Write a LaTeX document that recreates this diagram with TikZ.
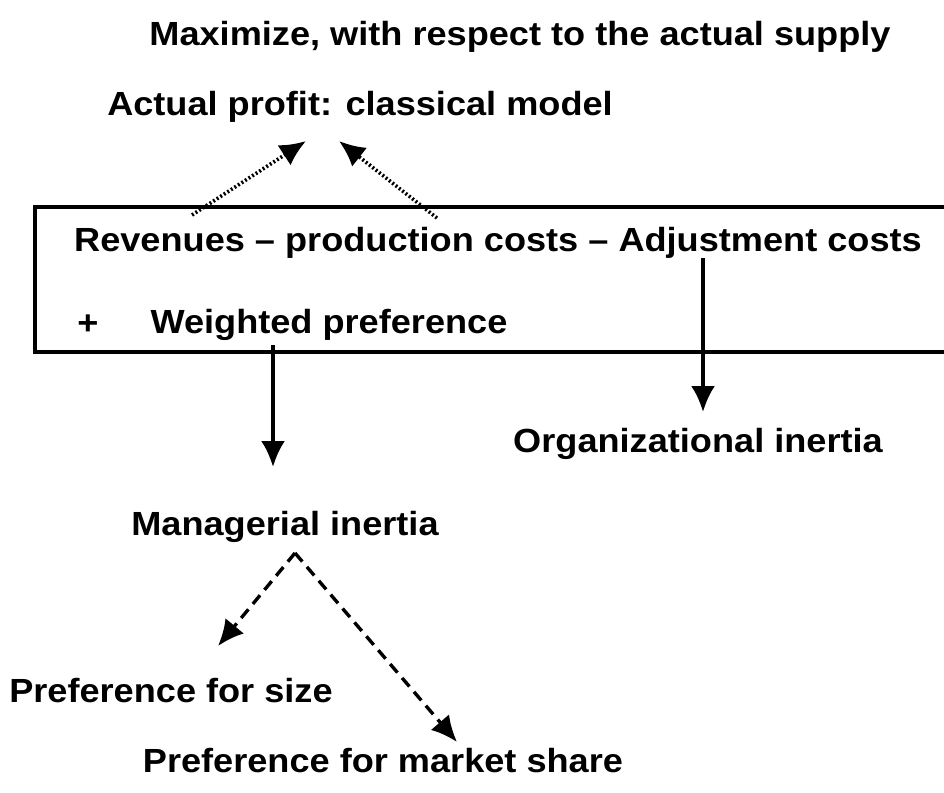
\documentclass[tikz,border=0pt]{standalone}
\usepackage{fontspec}
\setmainfont[FakeStretch=1.08]{Liberation Sans}
\usetikzlibrary{positioning}
\usetikzlibrary{arrows.meta}
\tikzset{
    term/.style = {inner sep=0pt, anchor=center, font=\fontsize{23.8}{28}\selectfont\bfseries},
    boxline/.style = {line width=2.8pt},
    edgen/.style = {-{Latex[length=6.5mm,width=6mm]},line width=2.6pt},
    edgedt/.style = {-{Latex[length=6.5mm,width=6mm]},line width=2.6pt,dash pattern=on 1.4pt off 1.6pt}, % to profit
    edgeds/.style = {-{Latex[length=6.5mm,width=6mm]},line width=2.4pt,dash pattern=on 8pt off 5pt} % preferences
}
\begin{document}
\begin{tikzpicture}[x=0.025cm,y=-0.025cm]
  \useasboundingbox (0,0) rectangle (944,792);
  % objective and the box
  \node[term] (max) at (520,37) {Maximize, with respect to the actual supply};
  \node[term] (profit) at (360,107) {Actual profit: classical model};
  \draw[boxline] (960,207) -- (35,207) -- (35,352) -- (960,352);
  \node[term] (rev) at (498,243) {Revenues -- production costs -- Adjustment costs};
  \node[term] (plus) at (88,325) {+};
  \node[term] (wpref) at (329,325) {Weighted preference};
  % inertia
  \node[term] (org) at (698,444) {Organizational inertia};
  \node[term] (man) at (285,527) {Managerial inertia};
  \node[term] (size) at (171,691) {Preference for size};
  \node[term] (share) at (383,761) {Preference for market share};

  \coordinate (r1) at (192,215);
  \coordinate (r2) at (437,218);
  \coordinate (p1) at (306,141);
  \coordinate (p2) at (339,141);
  \coordinate (w1) at (273,345);
  \coordinate (w2) at (273,467);
  \coordinate (a1) at (703,258);
  \coordinate (a2) at (703,412);
  \coordinate (m1) at (295,553);
  \coordinate (s1) at (218,646);
  \coordinate (s2) at (457,742);

  \draw[edgedt] (r1) -- (p1);
  \draw[edgedt] (r2) -- (p2);
  \draw[edgen] (w1) -- (w2);
  \draw[edgen] (a1) -- (a2);
  \draw[edgeds] (m1) -- (s1);
  \draw[edgeds] (m1) -- (s2);
\end{tikzpicture}
\end{document}
